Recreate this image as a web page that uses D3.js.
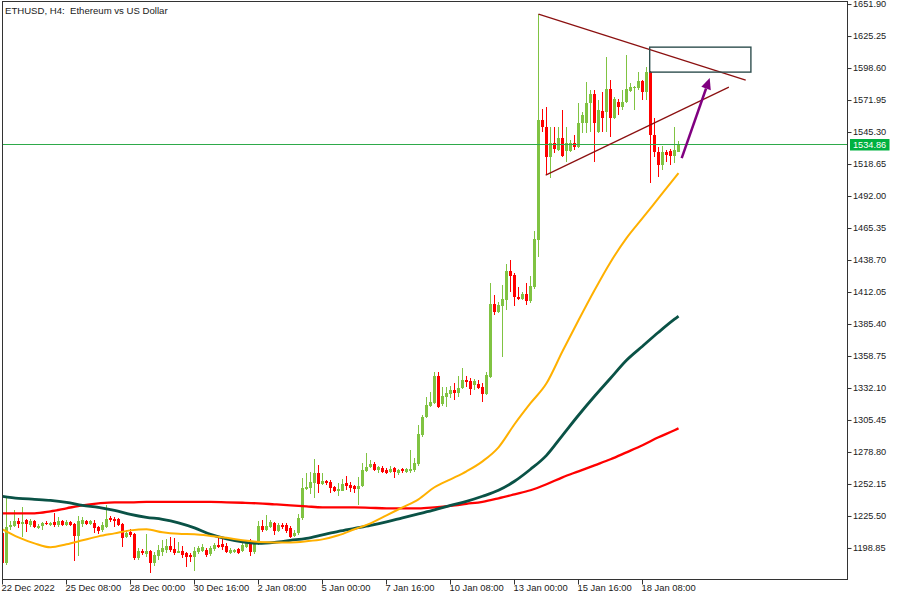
<!DOCTYPE html>
<html><head><meta charset="utf-8">
<script src="https://cdn.jsdelivr.net/npm/d3@7"></script>
<style>
html,body{margin:0;padding:0;background:#fff;}
svg{display:block;}
text{font-family:"Liberation Sans",Arial,sans-serif;font-size:9px;fill:#1a1a1a;}
</style></head><body>
<svg id="chart" width="900" height="600"></svg>
<script>
// ---------- DATA (ETHUSD H4, bar index 0 = 22 Dec 2022 16:00) ----------
const openP = [
1211.0,1186.0,1216.0,1216.9,1221.0,1218.5,1221.9,1217.7,1221.0,1215.2,
1216.9,1219.4,1217.7,1220.2,1217.7,1221.0,1217.7,1220.2,1218.5,1208.5,
1218.5,1221.0,1218.5,1219.4,1216.0,1213.5,1216.0,1223.5,1222.7,1222.7,
1218.5,1207.7,1211.9,1210.2,1190.2,1196.0,1193.5,1196.0,1186.0,1191.9,
1195.2,1196.9,1200.2,1197.7,1194.4,1196.0,1194.4,1192.7,1191.0,1195.2,
1196.0,1196.9,1193.5,1197.7,1201.0,1201.9,1200.2,1194.4,1195.2,1197.7,
1196.0,1199.4,1204.4,1195.2,1202.7,1216.9,1213.5,1216.0,1219.4,1212.7,
1217.7,1217.7,1215.2,1208.5,1211.0,1223.5,1247.7,1248.5,1252.7,1261.0,
1251.9,1254.4,1253.5,1249.4,1246.0,1246.0,1252.7,1251.0,1250.2,1247.7,
1250.2,1262.7,1266.0,1268.5,1263.5,1265.2,1263.5,1261.9,1265.2,1261.0,
1264.4,1261.9,1262.7,1263.5,1268.5,1292.7,1307.7,1316.9,1319.4,1341.9,
1318.5,1324.4,1326.9,1330.2,1327.7,1331.9,1338.5,1337.7,1334.4,1335.2,
1332.7,1326.9,1341.0,1401.9,1395.2,1400.2,1405.2,1429.4,1426.0,1407.7,
1406.0,1410.2,1404.4,1416.0,1455.2,1555.2,1549.4,1524.4,1536.0,1530.2,
1540.2,1529.4,1529.4,1536.0,1532.7,1552.7,1552.7,1569.4,1576.9,1545.2,
1562.7,1561.9,1581.0,1556.9,1570.2,1566.0,1570.2,1579.4,1581.9,1581.9,
1587.7,1578.5,1595.2,1542.7,1528.5,1517.7,1528.5,1529.4,1525.2,1528.5];
const highP = [
1212.7,1240.2,1221.0,1230.2,1223.5,1232.7,1222.7,1222.7,1221.9,1218.5,
1220.2,1221.0,1220.2,1227.7,1224.4,1221.9,1221.9,1221.0,1219.4,1225.2,
1224.4,1221.9,1221.9,1221.9,1216.9,1220.2,1234.4,1225.2,1224.4,1223.5,
1219.4,1213.5,1214.4,1211.0,1198.5,1197.7,1210.2,1196.9,1195.2,1201.0,
1205.2,1206.0,1207.7,1206.9,1203.5,1200.2,1195.2,1194.4,1199.4,1200.2,
1201.9,1198.5,1200.2,1202.7,1206.9,1206.9,1202.7,1198.5,1197.7,1198.5,
1202.7,1205.2,1206.0,1204.4,1221.0,1221.9,1226.0,1221.9,1220.2,1219.4,
1219.4,1219.4,1216.9,1213.5,1226.9,1256.9,1261.0,1261.9,1272.7,1267.7,
1261.0,1255.2,1255.2,1250.2,1252.7,1256.0,1258.5,1253.5,1251.0,1257.7,
1269.4,1277.7,1271.9,1270.2,1266.9,1266.9,1265.2,1266.9,1266.0,1264.4,
1265.2,1265.2,1280.2,1273.5,1301.0,1309.4,1324.4,1328.5,1345.2,1345.2,
1332.7,1332.7,1333.5,1336.0,1341.9,1348.5,1341.9,1340.2,1339.4,1338.5,
1336.0,1345.2,1419.4,1409.4,1403.5,1417.7,1435.2,1438.5,1427.7,1416.0,
1411.9,1419.4,1425.2,1462.7,1643.5,1564.4,1566.0,1549.4,1549.4,1549.4,
1563.5,1549.4,1538.5,1542.7,1569.4,1561.9,1586.9,1580.2,1580.2,1571.9,
1578.5,1607.7,1588.5,1574.4,1572.7,1580.2,1609.4,1586.0,1583.5,1595.2,
1588.5,1599.4,1596.0,1556.9,1532.7,1533.5,1530.2,1531.0,1549.4,1537.7];
const lowP = [
1185.2,1184.4,1213.5,1216.0,1215.2,1207.7,1211.9,1216.0,1215.2,1214.4,
1213.5,1217.7,1216.9,1216.0,1216.0,1216.9,1216.9,1216.9,1187.7,1191.9,
1216.0,1217.7,1217.7,1211.0,1210.2,1211.9,1215.2,1220.2,1216.0,1216.9,
1199.4,1206.9,1207.7,1188.5,1188.5,1192.7,1191.0,1177.7,1183.5,1188.5,
1191.9,1194.4,1195.2,1192.7,1194.4,1190.2,1182.7,1186.9,1179.4,1193.5,
1195.2,1191.0,1191.9,1196.0,1198.5,1196.9,1194.4,1193.5,1194.4,1193.5,
1195.2,1198.5,1191.9,1193.5,1201.0,1211.9,1212.7,1215.2,1209.4,1211.9,
1214.4,1211.0,1206.9,1207.7,1209.4,1221.9,1246.9,1243.5,1240.2,1244.4,
1251.0,1251.0,1244.4,1245.2,1241.9,1246.0,1246.9,1245.2,1244.4,1234.4,
1249.4,1261.9,1265.2,1262.7,1261.0,1261.0,1260.2,1261.0,1256.9,1259.4,
1261.0,1261.0,1261.0,1261.9,1266.9,1291.0,1306.9,1316.0,1318.5,1315.2,
1316.9,1316.0,1323.5,1321.9,1324.4,1331.0,1332.7,1326.0,1330.2,1331.0,
1320.2,1326.0,1340.2,1392.7,1394.4,1357.7,1396.9,1411.9,1400.2,1405.2,
1405.2,1401.0,1402.7,1414.4,1441.0,1545.2,1509.4,1506.9,1527.7,1529.4,
1524.4,1520.2,1528.5,1530.2,1531.9,1544.4,1544.4,1545.2,1520.2,1544.4,
1545.2,1545.2,1541.0,1556.0,1559.4,1563.5,1569.4,1578.5,1563.5,1580.2,
1571.9,1571.9,1502.7,1524.4,1507.7,1513.5,1520.2,1517.7,1519.4,1528.5];
const closeP = [
1186.0,1216.0,1217.7,1221.0,1218.5,1220.2,1218.5,1221.0,1216.0,1216.9,
1219.4,1218.5,1219.4,1217.7,1221.0,1217.7,1220.2,1217.7,1208.5,1221.0,
1221.9,1218.5,1221.0,1215.2,1212.7,1217.7,1222.7,1221.9,1221.0,1217.7,
1206.9,1211.0,1209.4,1190.2,1196.0,1194.4,1196.0,1186.0,1192.7,1196.9,
1198.5,1200.2,1196.9,1194.4,1196.0,1192.7,1191.0,1191.0,1196.0,1198.5,
1199.4,1192.7,1198.5,1201.0,1199.4,1199.4,1195.2,1196.9,1196.9,1194.4,
1201.0,1202.7,1195.2,1202.7,1216.9,1213.5,1216.9,1220.2,1212.7,1217.7,
1216.0,1212.7,1207.7,1211.0,1223.5,1248.5,1249.4,1253.5,1261.0,1251.9,
1254.4,1252.7,1248.5,1246.0,1247.7,1251.9,1250.2,1248.5,1247.7,1250.2,
1263.5,1266.0,1268.5,1263.5,1266.0,1261.9,1261.0,1264.4,1261.9,1263.5,
1262.7,1264.4,1264.4,1269.4,1293.5,1307.7,1317.7,1320.2,1341.9,1316.0,
1325.2,1327.7,1330.2,1327.7,1331.9,1338.5,1336.9,1331.0,1337.7,1331.9,
1326.9,1342.7,1401.9,1395.2,1401.0,1406.0,1429.4,1425.2,1407.7,1406.0,
1410.2,1404.4,1416.9,1456.0,1555.2,1549.4,1524.4,1536.0,1531.0,1540.2,
1525.2,1536.0,1536.0,1532.7,1552.7,1559.4,1569.4,1576.9,1552.7,1563.5,
1556.9,1581.0,1556.9,1572.7,1566.0,1570.2,1581.0,1582.7,1582.7,1587.7,
1578.5,1595.2,1542.7,1528.5,1517.7,1528.5,1526.0,1525.2,1530.2,1534.86];

// moving averages at every 4th bar (+ last bar)
const maIdx = [0,4,8,12,16,20,24,28,32,36,40,44,48,52,56,60,64,68,72,76,80,84,88,92,96,100,104,108,112,116,120,124,128,132,136,140,144,148,152,156,160,164,168,169];
const maOrange = [1214.4,1207.7,1202.7,1199.4,1201.9,1205.2,1208.5,1211.0,1213.5,1214.4,1211.9,1210.6,1210.2,1208.9,1207.3,1205.2,1203.9,1203.5,1203.5,1204.4,1206.0,1209.4,1214.4,1219.4,1226.0,1232.7,1239.4,1249.4,1256.0,1262.7,1271.0,1282.7,1301.9,1319.4,1336.0,1362.7,1388.5,1413.5,1436.9,1456.9,1473.5,1490.2,1506.9,1511.0];
const maTeal = [1241.9,1240.2,1239.4,1238.5,1236.9,1234.4,1232.7,1230.2,1226.9,1224.4,1222.7,1219.8,1215.6,1210.2,1206.5,1203.9,1202.7,1203.5,1205.2,1206.9,1209.8,1212.7,1215.2,1217.7,1220.6,1224.0,1227.3,1230.6,1234.4,1237.7,1241.9,1246.9,1254.4,1264.4,1276.0,1292.7,1309.4,1325.2,1340.2,1355.2,1366.9,1378.5,1389.4,1391.9];
const maRed = [1227.7,1227.7,1227.7,1229.4,1231.9,1234.4,1236.0,1236.9,1236.9,1237.3,1237.3,1237.3,1237.3,1237.3,1236.9,1236.5,1236.0,1235.2,1234.4,1233.5,1232.7,1232.7,1232.7,1232.3,1231.9,1231.9,1231.9,1232.7,1233.9,1235.6,1237.3,1240.2,1243.5,1246.9,1251.9,1257.7,1262.7,1267.7,1272.7,1278.5,1284.4,1291.0,1296.9,1298.5];

const xTickIdx = [0,16,32,48,64,80,96,112,128,144,160];
const xTickLabels = ["22 Dec 2022","25 Dec 08:00","28 Dec 00:00","30 Dec 16:00","2 Jan 08:00","5 Jan 00:00","7 Jan 16:00","10 Jan 08:00","13 Jan 00:00","15 Jan 16:00","18 Jan 08:00"];
const yTicks = [1198.85,1225.50,1252.15,1278.80,1305.45,1332.10,1358.75,1385.40,1412.05,1438.70,1465.35,1492.00,1518.65,1545.30,1571.95,1598.60,1625.25,1651.90];
const lastPrice = 1534.86;
const titleText = "ETHUSD, H4:  Ethereum vs US Dollar";

// drawn objects in (bar index, price) terms
const upperTrend = [[134,1643.5],[185.8,1588.5]];
const lowerTrend = [[135.8,1509.4],[181.6,1582.7]];
const targetBox = [[161.8,1616.0],[187.1,1595.2]];
const arrowPts = [[169.8,1523.5],[176.8,1590.2]];

// ---------- CHART ----------
const FONT = '"Liberation Sans",Arial,sans-serif';
const svg = d3.select("#chart");
const L = 2.5, R = 847.5, T = 1.5, B = 579.5;
const x = d3.scaleLinear().domain([0, 211.25]).range([2.5, 847.5]);
const y = d3.scaleLinear().domain([1173.0, 1653.6]).range([579, 2]);

svg.append("defs").append("clipPath").attr("id","plotclip")
  .append("rect").attr("x",L).attr("y",T).attr("width",R-L).attr("height",B-T);

const plot = svg.append("g").attr("clip-path","url(#plotclip)");

const bull = "#80c342", bear = "#ff0000";
const bars = d3.range(openP.length).map(i => ({i, o:openP[i], h:highP[i], l:lowP[i], c:closeP[i]}));

const cg = plot.append("g").attr("shape-rendering","crispEdges");
cg.selectAll("line.w").data(bars).join("line").attr("class","w")
  .attr("x1", d => x(d.i)).attr("x2", d => x(d.i))
  .attr("y1", d => Math.round(y(d.h))).attr("y2", d => Math.round(y(d.l)))
  .attr("stroke", d => d.c >= d.o ? bull : bear).attr("stroke-width",1);
cg.selectAll("rect.b").data(bars).join("rect").attr("class","b")
  .attr("x", d => x(d.i) - 1.5).attr("width", 3)
  .attr("y", d => Math.round(y(Math.max(d.o,d.c))))
  .attr("height", d => Math.max(1, Math.round(y(Math.min(d.o,d.c))) - Math.round(y(Math.max(d.o,d.c)))))
  .attr("fill", d => d.c >= d.o ? bull : bear);

// moving averages
const maLine = d3.line().x((d,k) => x(maIdx[k])).y(d => y(d)).curve(d3.curveMonotoneX);
plot.append("path").attr("d", maLine(maRed)).attr("fill","none").attr("stroke","#ff0000").attr("stroke-width",2.3);
plot.append("path").attr("d", maLine(maTeal)).attr("fill","none").attr("stroke","#0a5246").attr("stroke-width",2.8);
plot.append("path").attr("d", maLine(maOrange)).attr("fill","none").attr("stroke","#ffb000").attr("stroke-width",2);

// current price line
const py = Math.round(y(lastPrice)) - 0.5;
plot.append("line").attr("x1",L).attr("x2",R).attr("y1",py).attr("y2",py)
  .attr("stroke","#2eaa4a").attr("stroke-width",1);

// trend lines
[upperTrend, lowerTrend].forEach(t => {
  plot.append("line")
    .attr("x1", x(t[0][0])).attr("y1", y(t[0][1]))
    .attr("x2", x(t[1][0])).attr("y2", y(t[1][1]))
    .attr("stroke","#8b1010").attr("stroke-width",1.2);
});
// target rectangle
plot.append("rect")
  .attr("x", x(targetBox[0][0])).attr("y", y(targetBox[0][1]))
  .attr("width", x(targetBox[1][0]) - x(targetBox[0][0]))
  .attr("height", y(targetBox[1][1]) - y(targetBox[0][1]))
  .attr("fill","none").attr("stroke","#2f4f4f").attr("stroke-width",1.4);
// arrow
{
  const sx = x(arrowPts[0][0]), sy = y(arrowPts[0][1]);
  const tx = x(arrowPts[1][0]), ty = y(arrowPts[1][1]);
  const ang = Math.atan2(ty - sy, tx - sx);
  const hl = 11, hw = 5;
  const bx = tx - hl*Math.cos(ang), by = ty - hl*Math.sin(ang);
  plot.append("line").attr("x1",sx).attr("y1",sy).attr("x2",bx).attr("y2",by)
    .attr("stroke","#800080").attr("stroke-width",2.5);
  plot.append("path")
    .attr("d", `M${tx},${ty}L${bx - hw*Math.sin(ang)},${by + hw*Math.cos(ang)}L${bx + hw*Math.sin(ang)},${by - hw*Math.cos(ang)}Z`)
    .attr("fill","#800080");
}

// frame
svg.append("rect").attr("x",L).attr("y",T).attr("width",R-L).attr("height",B-T)
  .attr("fill","none").attr("stroke","#333").attr("stroke-width",1).attr("shape-rendering","crispEdges");

// right price axis
const ya = svg.append("g").attr("transform",`translate(${R},0)`)
  .call(d3.axisRight(y).tickValues(yTicks).tickFormat(d => d.toFixed(2)).tickSize(4).tickPadding(1.5).tickSizeOuter(0));
ya.select(".domain").remove();
ya.selectAll(".tick line").attr("stroke","#333");
ya.selectAll(".tick text").attr("fill","#1a1a1a").style("font-family",FONT).style("font-size","9.2px");

// bottom time axis
const xa = svg.append("g").attr("transform",`translate(0,${B})`)
  .call(d3.axisBottom(x).tickValues(xTickIdx).tickFormat((d,k) => xTickLabels[k]).tickSize(5).tickSizeOuter(0).offset(0));
xa.select(".domain").remove();
xa.selectAll(".tick line").attr("stroke","#333");
xa.selectAll(".tick text").attr("text-anchor","start").attr("x",-1).attr("y",4.8)
  .attr("fill","#1a1a1a").style("font-family",FONT).style("font-size","9.4px");

// last price label
svg.append("rect").attr("x",850).attr("y",py - 5.5).attr("width",39.5).attr("height",11.5).attr("fill","#00b140");
svg.append("text").attr("x",853).attr("y",py).attr("dy","0.35em").style("fill","#fff").style("font-size","9.2px").text(lastPrice.toFixed(2));

// title
svg.append("text").attr("x",5).attr("y",13.5).style("white-space","pre").style("font-size","9.6px").text(titleText);
</script>
</body></html>
